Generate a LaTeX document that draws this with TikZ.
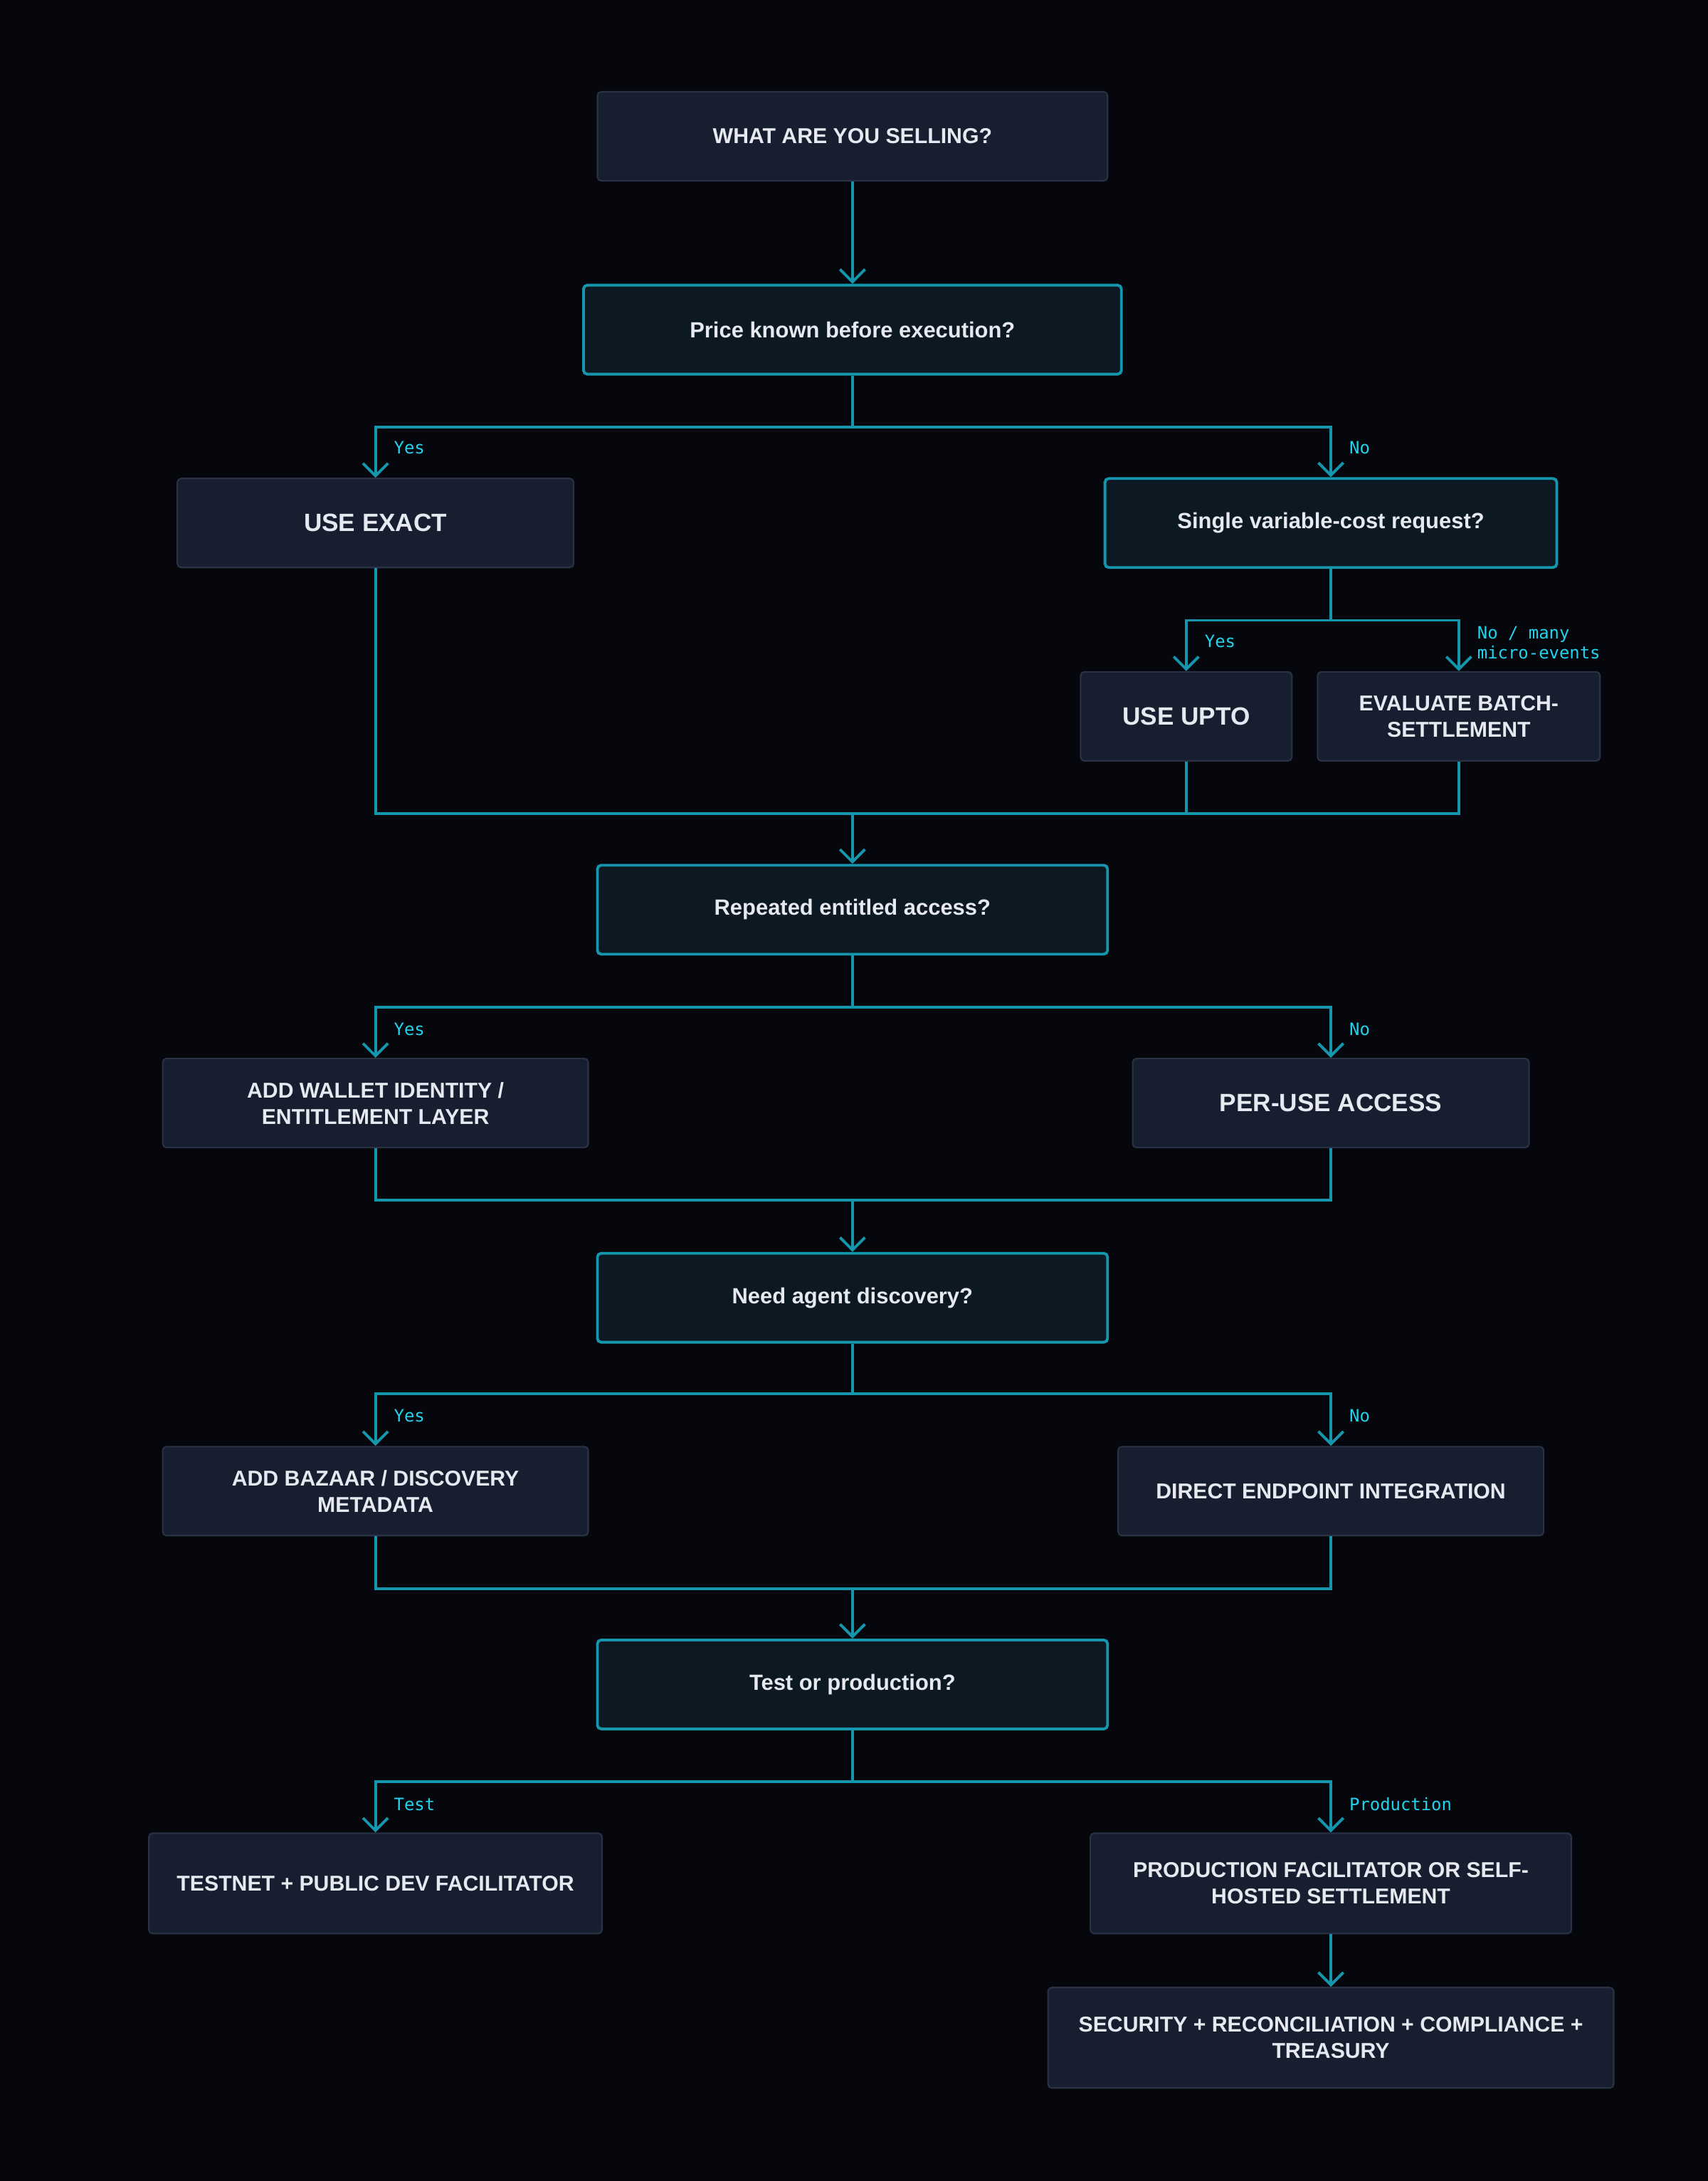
\documentclass[tikz,border=0pt]{standalone}
\usepackage{fontspec}
\setmainfont{Liberation Sans}
\setmonofont{DejaVu Sans Mono}
\usetikzlibrary{positioning,arrows.meta,calc}
\definecolor{bgdark}{HTML}{05070D}
\definecolor{boxfill}{HTML}{161E30}
\definecolor{boxline}{HTML}{2A3346}
\definecolor{askfill}{HTML}{0C1822}
\definecolor{teal}{HTML}{1596AD}
\definecolor{cyanlbl}{HTML}{22D3EE}
\definecolor{txt}{HTML}{E6E9EF}
\tikzset{
  box/.style={draw=boxline, line width=0.6pt, fill=boxfill, rounded corners=1.5pt,
    text=txt, font=\bfseries\fontsize{8.6}{10.5}\selectfont, align=center, inner sep=2pt},
  big/.style={box, font=\bfseries\fontsize{10}{12}\selectfont},
  ask/.style={draw=teal, line width=1.1pt, fill=askfill, rounded corners=1.5pt,
    text=txt, font=\bfseries\fontsize{8.8}{11}\selectfont, align=center,
    minimum width=7.17cm, minimum height=1.25cm},
  flow/.style={draw=teal, line width=1.1pt},
  arr/.style={flow, -{Straight Barb[length=5pt,width=10pt]}},
  lbl/.style={text=cyanlbl, font=\ttfamily\fontsize{6.8}{8}\selectfont, anchor=west, align=left, inner sep=0pt}
}
\begin{document}
\begin{tikzpicture}[x=0.01954cm, y=-0.01954cm]
\useasboundingbox[fill=bgdark] (0,0) rectangle (1228,1568);

% boxes
\node[box, minimum width=7.17cm, minimum height=1.25cm] (sell) at (613,98) {WHAT ARE YOU SELLING?};
\node[ask, minimum width=7.56cm] (price) at (613,237) {Price known before execution?};
\node[big, minimum width=5.57cm, minimum height=1.25cm] (exact) at (270,376) {USE EXACT};
\node[ask, minimum width=6.35cm] (single) at (957,376) {Single variable-cost request?};
\node[big, minimum width=2.97cm, minimum height=1.25cm] (upto) at (853,515) {USE UPTO};
\node[box, minimum width=3.97cm, minimum height=1.25cm] (batch) at (1049,515) {EVALUATE BATCH-\\SETTLEMENT};
\node[ask] (repeat) at (613,654) {Repeated entitled access?};
\node[box, minimum width=5.98cm, minimum height=1.25cm] (wallet) at (270,793) {ADD WALLET IDENTITY /\\ENTITLEMENT LAYER};
\node[big, minimum width=5.57cm, minimum height=1.25cm] (peruse) at (957,793) {PER-USE ACCESS};
\node[ask] (agent) at (613,933) {Need agent discovery?};
\node[box, minimum width=5.98cm, minimum height=1.25cm] (bazaar) at (270,1072) {ADD BAZAAR / DISCOVERY\\METADATA};
\node[box, minimum width=5.98cm, minimum height=1.25cm] (direct) at (957,1072) {DIRECT ENDPOINT INTEGRATION};
\node[ask] (mode) at (613,1211) {Test or production?};
\node[box, minimum width=6.37cm, minimum height=1.41cm] (testnet) at (270,1354) {TESTNET + PUBLIC DEV FACILITATOR};
\node[box, minimum width=6.76cm, minimum height=1.41cm] (prodfac) at (957,1354) {PRODUCTION FACILITATOR OR SELF-\\HOSTED SETTLEMENT};
\node[box, minimum width=7.95cm, minimum height=1.41cm] (secure) at (957,1465) {SECURITY + RECONCILIATION + COMPLIANCE +\\TREASURY};

% branch and merge points
\coordinate (s1) at (613,307);
\coordinate (s2) at (957,446);
\coordinate (m1) at (613,585);
\coordinate (s3) at (613,724);
\coordinate (m2) at (613,863);
\coordinate (s4) at (613,1002);
\coordinate (m3) at (613,1142);
\coordinate (s5) at (613,1281);

% connectors
\draw[arr] (sell) -- (price);
\draw[flow] (price) -- (s1);
\draw[arr] (s1) -| (exact.north);
\draw[arr] (s1) -| (single.north);
\draw[flow] (single) -- (s2);
\draw[arr] (s2) -| (upto.north);
\draw[arr] (s2) -| (batch.north);
\draw[flow] (exact.south) |- (m1);
\draw[flow] (batch.south) |- (m1);
\draw[flow] (upto.south) -- (upto.south |- m1);
\draw[arr] (m1) -- (repeat);
\draw[flow] (repeat) -- (s3);
\draw[arr] (s3) -| (wallet.north);
\draw[arr] (s3) -| (peruse.north);
\draw[flow] (wallet.south) |- (m2);
\draw[flow] (peruse.south) |- (m2);
\draw[arr] (m2) -- (agent);
\draw[flow] (agent) -- (s4);
\draw[arr] (s4) -| (bazaar.north);
\draw[arr] (s4) -| (direct.north);
\draw[flow] (bazaar.south) |- (m3);
\draw[flow] (direct.south) |- (m3);
\draw[arr] (m3) -- (mode);
\draw[flow] (mode) -- (s5);
\draw[arr] (s5) -| (testnet.north);
\draw[arr] (s5) -| (prodfac.north);
\draw[arr] (prodfac) -- (secure);

% branch labels
\node[lbl] (l1) at (283,322) {Yes};
\node[lbl] (l2) at (970,322) {No};
\node[lbl] (l3) at (866,461) {Yes};
\node[lbl] (l4) at (1062,462) {No / many\\micro-events};
\node[lbl] (l5) at (283,740) {Yes};
\node[lbl] (l6) at (970,740) {No};
\node[lbl] (l7) at (283,1018) {Yes};
\node[lbl] (l8) at (970,1018) {No};
\node[lbl] (l9) at (283,1297) {Test};
\node[lbl] (l10) at (970,1297) {Production};
\end{tikzpicture}
\end{document}
